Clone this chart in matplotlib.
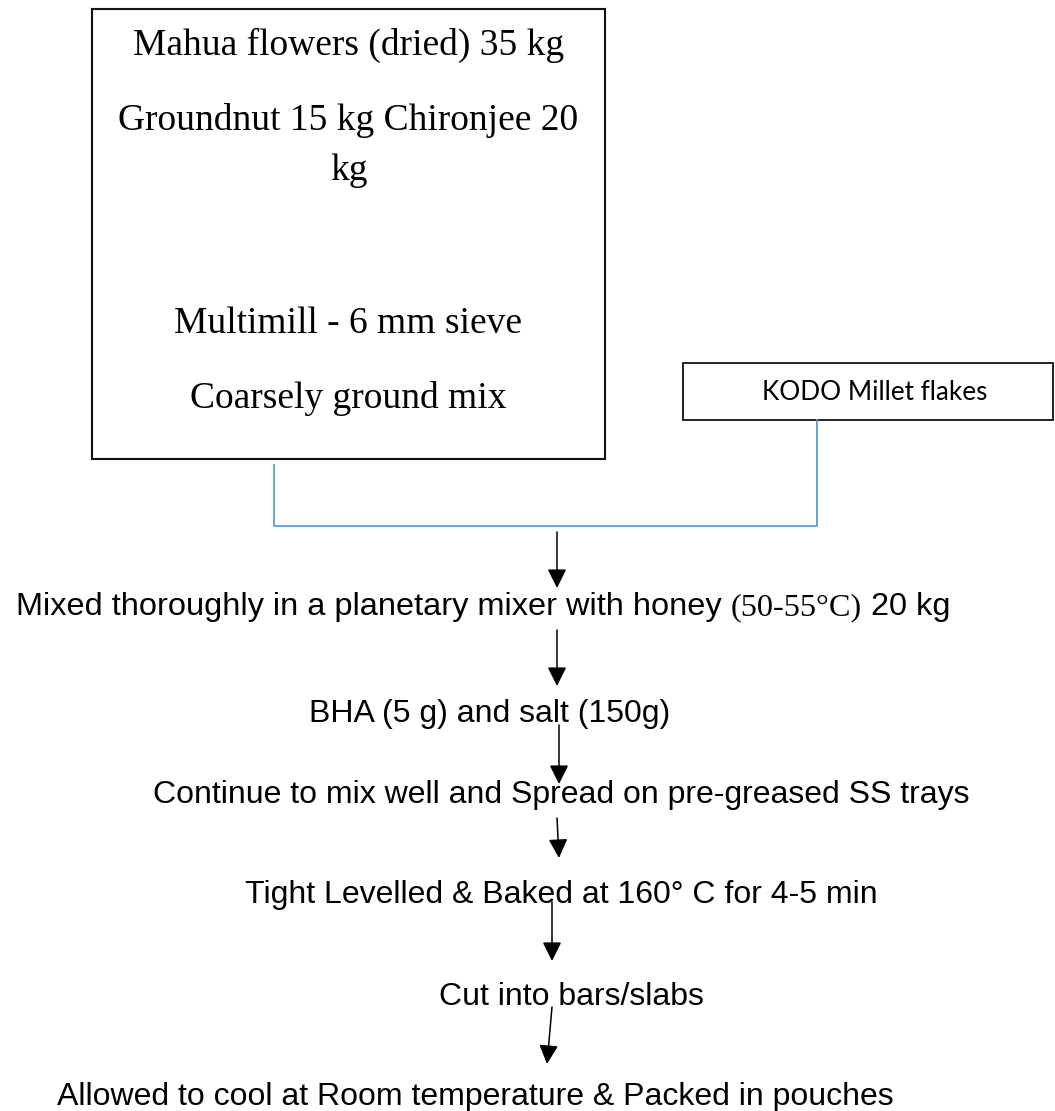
import matplotlib
matplotlib.use("Agg")
import matplotlib.pyplot as plt
from matplotlib.patches import Rectangle

# texto del diagrama de flujo
caja_ingredientes = ["Mahua flowers (dried) 35 kg", "Groundnut 15 kg Chironjee 20", "kg",
                     "Multimill - 6 mm sieve", "Coarsely ground mix"]
caja_kodo = "KODO Millet flakes"
linea_mezcla = ["Mixed thoroughly in a planetary mixer with honey ", "(50-55°C)", " 20 kg"]
pasos = ["BHA (5 g) and salt (150g)",
         "Continue to mix well and Spread on pre-greased SS trays",
         "Tight Levelled & Baked at 160° C for 4-5 min",
         "Cut into bars/slabs",
         "Allowed to cool at Room temperature & Packed in pouches"]

# posiciones (pixeles de la imagen, y hacia abajo)
y_caja = [55, 130, 180, 333, 408]
x_pasos = [309, 153, 245, 439, 57]
y_pasos = [722, 803, 903, 1005, 1105]
flechas = [((557, 532), (557, 588)), ((557, 630), (557, 686)), ((559, 725), (559, 784)),
           ((557, 818), (559, 858)), ((552, 902), (552, 961)), ((552, 1007), (547, 1064))]

serif = "Liberation Serif"
sans = "Liberation Sans"

fig = plt.figure(figsize=(10.55, 11.11), dpi=100)
ax = fig.add_axes([0, 0, 1, 1])
ax.set_xlim(0, 1055)
ax.set_ylim(1111, 0)
ax.axis("off")

# caja grande de ingredientes
ax.add_patch(Rectangle((92, 9), 513, 450, fill=False, ec="#111111", lw=1.5))
for texto, y in zip(caja_ingredientes, y_caja):
    ax.text(348.5, y, texto, ha="center", va="baseline", family=serif, fontsize=27)

# caja de millet
ax.add_patch(Rectangle((683, 363), 370, 57, fill=False, ec="#111111", lw=1.3))
ax.text(875, 400, caja_kodo, ha="center", va="baseline", family="Lato", fontsize=18.8)

# conector azul
ax.plot([274, 274, 817, 817], [465, 526, 526, 420], color="#5B9BD5", lw=1.3)

# linea con mezcla de fuentes (Arial + Times en el rango de temperatura)
renderer = fig.canvas.get_renderer()
x = 16
for i, trozo in enumerate(linea_mezcla):
    fam, tam = (serif, 23.2) if i == 1 else (sans, 23.4)
    t = ax.text(x, 615, trozo, ha="left", va="baseline", family=fam, fontsize=tam)
    bb = t.get_window_extent(renderer)
    x = ax.transData.inverted().transform((bb.x1, bb.y0))[0]

for texto, xp, yp in zip(pasos, x_pasos, y_pasos):
    ax.text(xp, yp, texto, ha="left", va="baseline", family=sans, fontsize=23)

for inicio, fin in flechas:
    ax.annotate("", xy=fin, xytext=inicio,
                arrowprops=dict(arrowstyle="-|>", mutation_scale=29, lw=1.1, color="black",
                                shrinkA=0, shrinkB=0))

fig.savefig("out.png", dpi=100)
